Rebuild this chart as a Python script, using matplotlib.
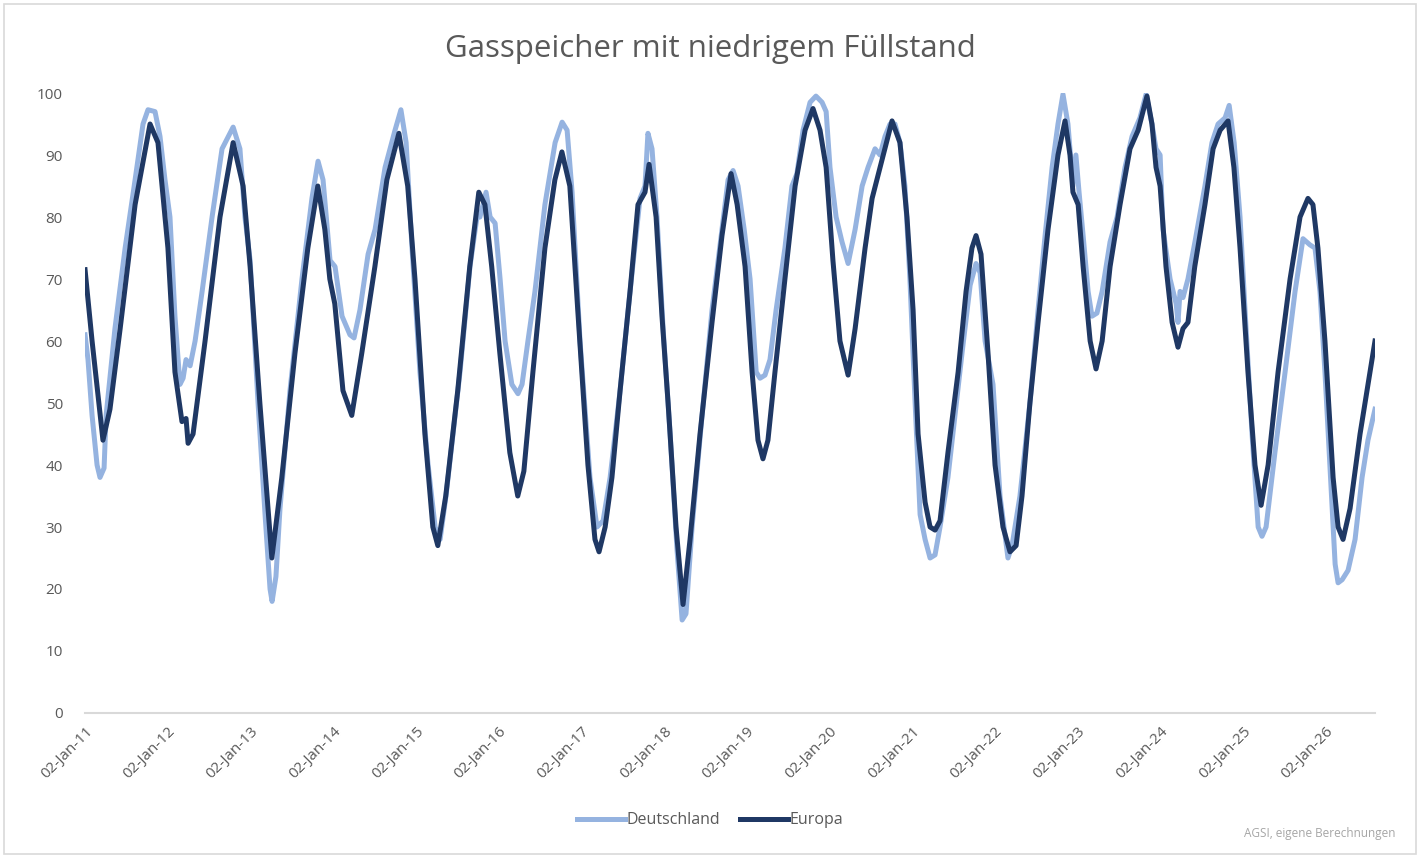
import matplotlib
matplotlib.use("Agg")
import matplotlib.pyplot as plt
import matplotlib.dates as mdates
from matplotlib.patches import Rectangle
import pandas as pd

# Füllstand in Prozent (AGSI)
de_dates = [
    "2011-01-01", "2011-01-14", "2011-02-01", "2011-02-23", "2011-03-08", "2011-03-26", "2011-04-04",
    "2011-05-13", "2011-06-27", "2011-08-10", "2011-09-14", "2011-10-06", "2011-11-06", "2011-11-28",
    "2011-12-20", "2012-01-11", "2012-02-02", "2012-02-24", "2012-03-09", "2012-03-22", "2012-04-09",
    "2012-05-01", "2012-06-01", "2012-07-15", "2012-08-28", "2012-10-02", "2012-10-16", "2012-11-15",
    "2012-12-07", "2012-12-30", "2013-02-03", "2013-03-06", "2013-03-28", "2013-04-06", "2013-04-23",
    "2013-05-11", "2013-06-24", "2013-08-16", "2013-09-29", "2013-10-26", "2013-11-17", "2013-12-18",
    "2014-01-09", "2014-02-09", "2014-03-16", "2014-04-03", "2014-04-29", "2014-06-04", "2014-07-05",
    "2014-08-18", "2014-10-01", "2014-10-27", "2014-11-19", "2014-12-15", "2015-01-19", "2015-02-24",
    "2015-03-27", "2015-04-18", "2015-05-14", "2015-07-15", "2015-08-28", "2015-09-28", "2015-10-11",
    "2015-11-07", "2015-11-25", "2015-12-17", "2016-01-08", "2016-01-30", "2016-02-29", "2016-03-27",
    "2016-04-14", "2016-05-10", "2016-06-10", "2016-07-24", "2016-09-07", "2016-10-08", "2016-10-30",
    "2016-11-21", "2016-12-26", "2017-02-08", "2017-03-11", "2017-04-07", "2017-05-08", "2017-06-21",
    "2017-08-04", "2017-09-17", "2017-10-09", "2017-10-22", "2017-11-09", "2017-12-01", "2017-12-28",
    "2018-01-28", "2018-02-28", "2018-03-22", "2018-04-08", "2018-05-05", "2018-06-18", "2018-08-01",
    "2018-09-14", "2018-10-11", "2018-11-02", "2018-11-24", "2018-12-21", "2019-01-16", "2019-02-12",
    "2019-03-01", "2019-03-23", "2019-04-14", "2019-05-11", "2019-06-19", "2019-07-20", "2019-08-11",
    "2019-09-07", "2019-10-08", "2019-11-03", "2019-11-30", "2019-12-18", "2020-01-04", "2020-01-31",
    "2020-02-26", "2020-03-24", "2020-04-24", "2020-05-25", "2020-06-20", "2020-07-21", "2020-08-12",
    "2020-09-03", "2020-09-25", "2020-10-17", "2020-11-08", "2020-11-30", "2020-12-22", "2021-01-14",
    "2021-02-05", "2021-02-27", "2021-03-21", "2021-04-12", "2021-05-04", "2021-06-08", "2021-07-09",
    "2021-08-09", "2021-09-14", "2021-10-10", "2021-10-28", "2021-11-19", "2021-12-24", "2022-01-24",
    "2022-02-28", "2022-03-18", "2022-04-22", "2022-06-05", "2022-07-11", "2022-08-11", "2022-09-11",
    "2022-10-07", "2022-10-29", "2022-11-20", "2022-12-12", "2022-12-25", "2023-01-08", "2023-01-26",
    "2023-02-17", "2023-03-06", "2023-03-28", "2023-04-20", "2023-05-25", "2023-06-25", "2023-07-30",
    "2023-08-30", "2023-10-04", "2023-10-31", "2023-11-26", "2023-12-14", "2024-01-01", "2024-01-14",
    "2024-02-14", "2024-03-12", "2024-03-20", "2024-03-29", "2024-04-11", "2024-05-03", "2024-06-03",
    "2024-07-17", "2024-08-17", "2024-09-13", "2024-10-14", "2024-11-01", "2024-11-23", "2024-12-19",
    "2025-01-10", "2025-02-10", "2025-03-09", "2025-03-26", "2025-04-13", "2025-05-22", "2025-07-06",
    "2025-08-19", "2025-09-23", "2025-10-24", "2025-11-15", "2025-12-07", "2025-12-29", "2026-01-20",
    "2026-02-12", "2026-02-25", "2026-03-15", "2026-04-10", "2026-05-11", "2026-06-11", "2026-07-07",
    "2026-08-07",
]
de_values = [
    61, 57, 48, 40, 38, 39.5, 48,
    62, 75, 86, 95, 97.3, 97, 93,
    86, 80, 64, 53, 54, 57, 56,
    60, 68, 80, 91, 93.5, 94.5, 91,
    80, 73, 50, 32, 20, 18, 22,
    33, 52, 70, 83, 89, 86, 73,
    72, 64, 61, 60.5, 65, 74, 78,
    88, 94, 97.3, 92, 75, 55, 40,
    30, 28, 35, 55, 72, 80, 80,
    84, 80, 79, 70, 60, 53, 51.5,
    53, 60, 68, 82, 92, 95.3, 94,
    84, 60, 38, 30, 31, 38, 52,
    68, 83, 85, 93.5, 91, 80, 62,
    45, 26, 15, 16, 30, 48, 65,
    78, 86, 87.5, 85, 78, 70, 55,
    54, 54.5, 57, 65, 75, 85, 87,
    94, 98.5, 99.5, 98.5, 97, 88, 80,
    76, 72.5, 78, 85, 88, 91, 90,
    93, 95, 95, 92, 85, 70, 50,
    32, 28, 25, 25.5, 30, 38, 48,
    58, 69, 72.5, 71, 60, 53, 35,
    25, 27, 35, 50, 65, 77, 88,
    95, 99.8, 95, 85, 90, 84, 77,
    68, 64, 64.5, 68, 76, 80, 88,
    93, 96, 99.8, 95, 91, 90, 78,
    70, 66, 63, 68, 67, 70, 76,
    85, 92, 95, 96, 98, 92, 80,
    65, 45, 30, 28.5, 30, 42, 55,
    68, 76.5, 75.5, 75, 68, 55, 40,
    24, 21, 21.5, 23, 28, 38, 44,
    49,
]

eu_dates = [
    "2011-01-01", "2011-02-01", "2011-03-21", "2011-04-21", "2011-06-05", "2011-08-10", "2011-10-15",
    "2011-11-19", "2012-01-02", "2012-02-02", "2012-03-04", "2012-03-22", "2012-03-31", "2012-04-22",
    "2012-06-14", "2012-08-19", "2012-10-16", "2012-11-29", "2012-12-30", "2013-02-11", "2013-04-05",
    "2013-05-19", "2013-07-16", "2013-09-11", "2013-10-25", "2013-11-25", "2013-12-17", "2014-01-08",
    "2014-02-13", "2014-03-24", "2014-05-07", "2014-07-04", "2014-08-26", "2014-10-18", "2014-11-26",
    "2014-12-28", "2015-02-10", "2015-03-17", "2015-04-08", "2015-05-13", "2015-07-05", "2015-08-27",
    "2015-10-06", "2015-11-02", "2015-12-02", "2016-01-07", "2016-02-20", "2016-03-26", "2016-04-22",
    "2016-06-01", "2016-07-24", "2016-09-06", "2016-10-07", "2016-11-11", "2016-12-16", "2017-01-30",
    "2017-03-02", "2017-03-20", "2017-04-16", "2017-05-16", "2017-06-21", "2017-08-04", "2017-09-08",
    "2017-10-09", "2017-10-27", "2017-11-27", "2017-12-23", "2018-01-19", "2018-02-23", "2018-03-26",
    "2018-04-26", "2018-06-09", "2018-08-01", "2018-09-14", "2018-10-24", "2018-11-20", "2018-12-25",
    "2019-01-25", "2019-02-20", "2019-03-14", "2019-04-05", "2019-05-06", "2019-06-19", "2019-08-03",
    "2019-09-16", "2019-10-21", "2019-11-21", "2019-12-18", "2020-01-17", "2020-02-17", "2020-03-24",
    "2020-04-24", "2020-06-07", "2020-07-08", "2020-08-12", "2020-10-04", "2020-11-08", "2020-12-09",
    "2021-01-05", "2021-01-27", "2021-02-27", "2021-03-21", "2021-04-12", "2021-05-04", "2021-06-08",
    "2021-07-23", "2021-08-27", "2021-09-22", "2021-10-10", "2021-11-01", "2021-12-02", "2022-01-02",
    "2022-02-06", "2022-03-09", "2022-04-05", "2022-05-01", "2022-06-05", "2022-07-11", "2022-08-24",
    "2022-10-07", "2022-11-07", "2022-11-29", "2022-12-12", "2023-01-04", "2023-01-26", "2023-02-26",
    "2023-03-24", "2023-04-20", "2023-05-25", "2023-07-08", "2023-08-21", "2023-09-26", "2023-11-04",
    "2023-11-26", "2023-12-14", "2024-01-01", "2024-01-27", "2024-02-23", "2024-03-20", "2024-04-11",
    "2024-05-03", "2024-06-02", "2024-07-17", "2024-08-22", "2024-09-22", "2024-10-27", "2024-11-22",
    "2024-12-19", "2025-01-23", "2025-02-23", "2025-03-22", "2025-04-22", "2025-06-05", "2025-07-28",
    "2025-09-10", "2025-10-15", "2025-11-06", "2025-11-28", "2025-12-29", "2026-02-03", "2026-02-25",
    "2026-03-19", "2026-04-19", "2026-06-02", "2026-08-07",
]
eu_values = [
    71.5, 60, 44, 49, 62, 82, 95,
    92, 75, 55, 47, 47.5, 43.5, 45,
    60, 80, 92, 85, 72, 50, 25,
    38, 58, 75, 85, 78, 70, 66,
    52, 48, 58, 72, 86, 93.5, 85,
    70, 45, 30, 27, 35, 52, 72,
    84, 82, 72, 58, 42, 35, 39,
    55, 75, 86, 90.5, 85, 65, 40,
    28, 26, 30, 38, 52, 68, 82,
    84, 88.5, 80, 64, 50, 30, 17.5,
    28, 45, 63, 77, 87, 82, 72,
    55, 44, 41, 44, 55, 70, 85,
    94, 97.5, 94, 88, 73, 60, 54.5,
    62, 75, 83, 88, 95.5, 92, 80,
    65, 45, 34, 30, 29.5, 31, 42,
    55, 68, 75, 77, 74, 58, 40,
    30, 26, 27, 35, 50, 63, 78,
    90, 95.5, 90, 84, 82, 72, 60,
    55.5, 60, 72, 82, 91, 94, 99.5,
    95, 88, 85, 72, 63, 59, 62,
    63, 72, 82, 91, 94, 95.5, 88,
    75, 55, 40, 33.5, 40, 55, 70,
    80, 83, 82, 75, 60, 38, 30,
    28, 33, 45, 60,
]

tick_dates = [f"{y}-01-02" for y in range(2011, 2027)]
x_start, x_end = "2011-01-01", "2026-08-07"

de_color = "#95B3E0"
eu_color = "#1F3864"
text_gray = "#595959"

fig = plt.figure(figsize=(14.2, 8.58), dpi=100)
plt.rcParams["font.family"] = ["Open Sans", "DejaVu Sans"]
ax = fig.add_axes([0.0599, 0.169, 0.9084, 0.7226])

ax.plot(pd.to_datetime(de_dates), de_values, color=de_color, lw=3.6,
        solid_joinstyle="round", label="Deutschland")
ax.plot(pd.to_datetime(eu_dates), eu_values, color=eu_color, lw=3.6,
        solid_joinstyle="round", label="Europa")

ax.set_ylim(0, 100)
ax.set_yticks(range(0, 101, 10))
ax.set_xlim(pd.Timestamp(x_start), pd.Timestamp(x_end))
ax.set_xticks(pd.to_datetime(tick_dates))
ax.xaxis.set_major_formatter(mdates.DateFormatter("%d-%b-%y"))
for lab in ax.get_xticklabels():
    lab.set_rotation(45)
    lab.set_ha("right")
    lab.set_rotation_mode("anchor")
ax.tick_params(axis="both", length=0, labelsize=11, labelcolor=text_gray)
ax.tick_params(axis="x", pad=8)
ax.tick_params(axis="y", pad=16)

for s in ["top", "right", "left"]:
    ax.spines[s].set_visible(False)
ax.spines["bottom"].set_color("#D9D9D9")
ax.spines["bottom"].set_linewidth(1.5)

fig.text(0.5, 0.943, "Gasspeicher mit niedrigem Füllstand", ha="center", va="center",
         fontsize=22.5, color=text_gray)

leg = fig.legend(loc="center", bbox_to_anchor=(0.5, 0.044), ncol=2, frameon=False,
                 fontsize=11.5, handlelength=3, handletextpad=0.1, columnspacing=1.2)
for t in leg.get_texts():
    t.set_color(text_gray)

fig.text(0.983, 0.029, "AGSI, eigene Berechnungen", ha="right", va="center",
         fontsize=8.5, color="#A6A6A6")

fig.patches.append(Rectangle((0.003, 0.005), 0.994, 0.99, transform=fig.transFigure,
                             fill=False, edgecolor="#D9D9D9", lw=1.2))

fig.savefig("out.png", dpi=100)
